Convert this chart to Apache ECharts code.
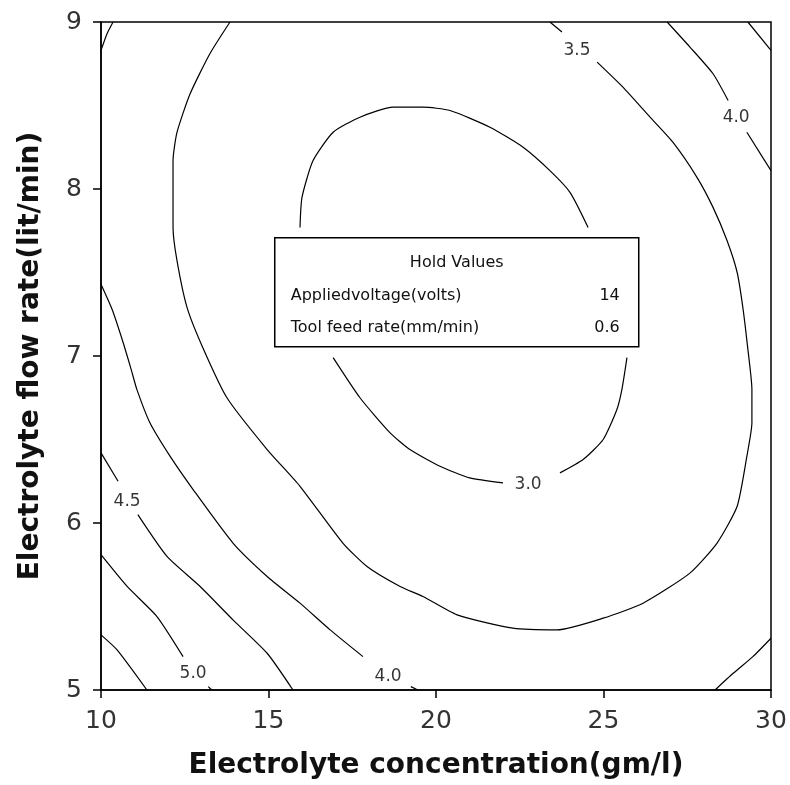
<!DOCTYPE html>
<html>
<head>
<meta charset="utf-8">
<script src="https://cdn.jsdelivr.net/npm/echarts@6.0.0/dist/echarts.min.js"></script>
<style>
  body { margin: 0; background: #fff; }
  #chart { width: 790px; height: 785px; }
</style>
</head>
<body>
<div id="chart"></div>
<script>
// contour lines, [concentration, flow rate]; each level split into segments
const contour30 = [
  [[15.94, 7.77], [16.0, 7.95], [16.33, 8.17], [16.93, 8.34], [17.73, 8.43], [18.72, 8.49], [19.61, 8.49],
   [20.42, 8.47], [21.61, 8.37], [22.6, 8.25], [23.4, 8.11], [24.0, 7.98], [24.54, 7.77]],
  [[16.93, 6.99], [17.73, 6.75], [18.63, 6.54], [19.22, 6.44], [20.12, 6.34], [21.01, 6.27], [22.0, 6.24]],
  [[23.7, 6.30], [24.39, 6.38], [24.99, 6.50], [25.4, 6.68], [25.55, 6.80], [25.7, 6.99]]
];
const contour35 = [
  [[23.4, 9.0], [23.76, 8.94]],
  [[24.81, 8.76], [25.58, 8.61], [26.39, 8.43], [27.07, 8.28], [27.79, 8.07], [28.27, 7.89], [28.69, 7.69],
   [28.99, 7.50], [29.16, 7.29], [29.31, 7.04], [29.43, 6.80], [29.43, 6.60], [29.28, 6.40], [28.99, 6.10],
   [28.39, 5.88], [27.58, 5.70], [26.18, 5.52], [24.99, 5.43], [23.61, 5.36], [22.3, 5.37], [20.63, 5.45],
   [19.61, 5.56], [18.93, 5.62], [17.94, 5.74], [17.22, 5.88], [15.94, 6.22], [14.96, 6.44], [13.76, 6.75],
   [13.04, 7.05], [12.57, 7.29], [12.27, 7.57], [12.15, 7.77], [12.15, 8.17], [12.27, 8.34], [12.66, 8.57],
   [13.25, 8.81], [13.85, 9.0]]
];
const contour40 = [
  [[10, 8.83], [10.18, 8.93], [10.36, 9.0]],
  [[26.9, 9.0], [27.58, 8.85], [28.27, 8.69], [28.72, 8.53]],
  [[29.28, 8.34], [30, 8.11]],
  [[10, 7.43], [10.33, 7.28], [10.63, 7.10], [10.9, 6.92], [11.07, 6.80], [11.46, 6.60], [12.06, 6.40],
   [12.75, 6.20], [13.94, 5.88], [14.96, 5.68], [15.94, 5.52], [16.84, 5.36], [17.82, 5.20]],
  [[19.25, 5.02], [19.46, 5.0]],
  [[28.33, 5.0], [28.87, 5.10], [29.46, 5.20], [30, 5.31]]
];
const contour45 = [
  [[29.31, 9.0], [30, 8.83]],
  [[10, 6.42], [10.51, 6.25]],
  [[11.1, 6.05], [11.97, 5.80], [12.96, 5.62], [13.94, 5.42], [14.96, 5.22], [15.73, 5.0]]
];
const contour50 = [
  [[10, 5.81], [10.78, 5.62], [11.67, 5.44], [12.45, 5.20]],
  [[13.2, 5.02], [13.31, 5.0]]
];
const contour55 = [
  [[10, 5.33], [10.48, 5.24], [11.37, 5.0]]
];
const contourLabels = [
  [24.21, 8.83, "3.5"], [28.96, 8.43, "4.0"], [22.75, 6.23, "3.0"],
  [10.78, 6.13, "4.5"], [12.75, 5.10, "5.0"], [18.57, 5.08, "4.0"]
];
const xTicks = [10, 15, 20, 25, 30];
const yTicks = [5, 6, 7, 8, 9];
const holdNames = ["Appliedvoltage(volts)", "Tool feed rate(mm/min)"];
const holdValues = ["14", "0.6"];

const font = "DejaVu Sans";
const chart = echarts.init(document.getElementById("chart"));

const series = [];
[contour30, contour35, contour40, contour45, contour50, contour55].forEach(level => {
  level.forEach(seg => {
    series.push({
      type: "line",
      data: seg,
      showSymbol: false,
      smooth: 0.2,
      silent: true,
      lineStyle: { color: "#000", width: 1.2 }
    });
  });
});
series.push({
  type: "scatter",
  data: contourLabels,
  symbolSize: 0,
  silent: true,
  label: {
    show: true,
    position: "inside",
    formatter: p => p.value[2],
    fontFamily: font,
    fontSize: 17,
    color: "#000"
  }
});

const titleStyle = { fontFamily: font, fontWeight: "bold", fontSize: 28, color: "#111" };

const option = {
  animation: false,
  grid: { left: 101, right: 19, top: 22, bottom: 95, show: true, borderColor: "#000", borderWidth: 1.5 },
  xAxis: {
    type: "value",
    min: xTicks[0],
    max: xTicks[xTicks.length - 1],
    interval: 5,
    name: "Electrolyte concentration(gm/l)",
    nameLocation: "middle",
    nameGap: 62,
    nameTextStyle: titleStyle,
    axisLine: { lineStyle: { color: "#000", width: 1.5 } },
    axisTick: { length: 8, lineStyle: { color: "#000", width: 1.5 } },
    axisLabel: { fontFamily: font, fontSize: 25, color: "#333", margin: 19 },
    splitLine: { show: false }
  },
  yAxis: {
    type: "value",
    min: yTicks[0],
    max: yTicks[yTicks.length - 1],
    interval: 1,
    name: "Electrolyte flow rate(lit/min)",
    nameLocation: "middle",
    nameGap: 56,
    nameTextStyle: titleStyle,
    axisLine: { lineStyle: { color: "#000", width: 1.5 } },
    axisTick: { length: 8, lineStyle: { color: "#000", width: 1.5 } },
    axisLabel: { fontFamily: font, fontSize: 25, color: "#333", margin: 19 },
    splitLine: { show: false }
  },
  graphic: [
    {
      type: "group",
      left: 274,
      top: 237,
      z: 100,
      children: [
        { type: "rect", shape: { x: 0, y: 0, width: 364, height: 109 },
          style: { fill: "#fff", stroke: "#000", lineWidth: 1.5 } },
        { type: "text", x: 182, y: 25,
          style: { text: "Hold Values", font: "16px " + font, fill: "#111", align: "center", verticalAlign: "middle" } },
        { type: "text", x: 16, y: 58,
          style: { text: holdNames[0], font: "16px " + font, fill: "#111", verticalAlign: "middle" } },
        { type: "text", x: 345, y: 58,
          style: { text: holdValues[0], font: "16px " + font, fill: "#111", align: "right", verticalAlign: "middle" } },
        { type: "text", x: 16, y: 90,
          style: { text: holdNames[1], font: "16px " + font, fill: "#111", verticalAlign: "middle" } },
        { type: "text", x: 345, y: 90,
          style: { text: holdValues[1], font: "16px " + font, fill: "#111", align: "right", verticalAlign: "middle" } }
      ]
    }
  ],
  series: series
};

chart.setOption(option);
</script>
</body>
</html>
